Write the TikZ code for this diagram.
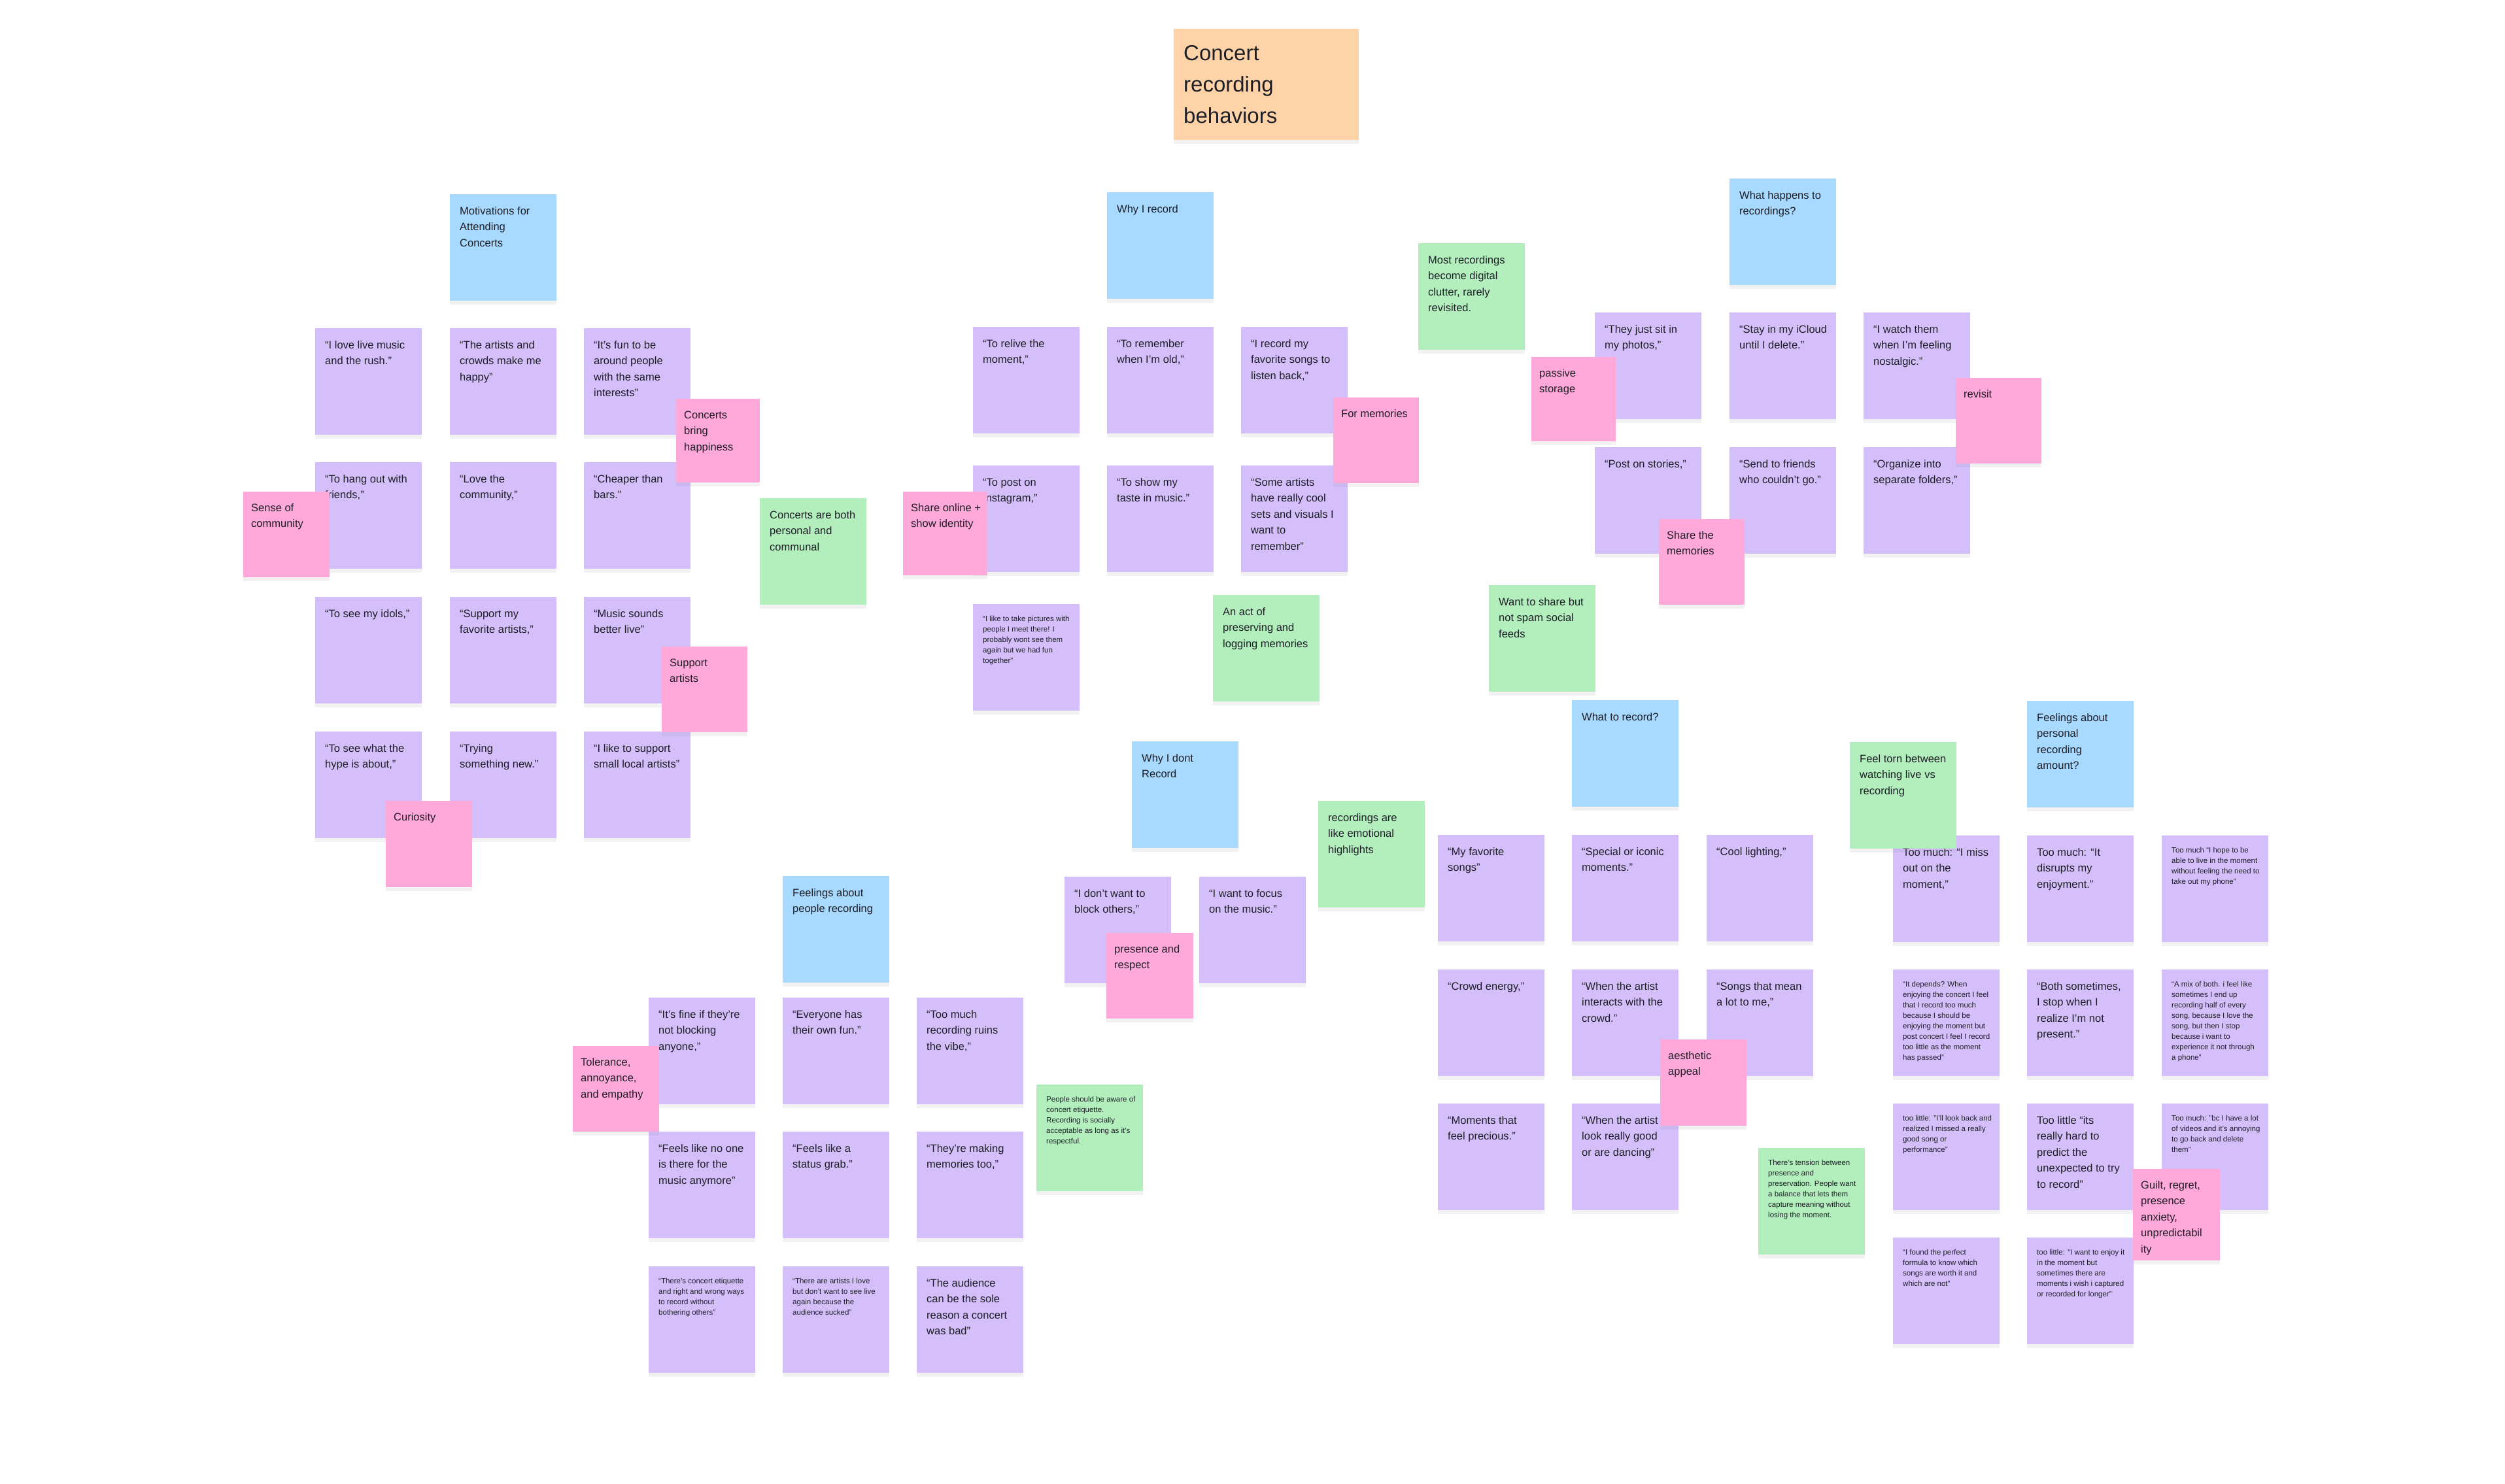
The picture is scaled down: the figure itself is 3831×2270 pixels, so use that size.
\documentclass[tikz,border=0pt]{standalone}
\usepackage{fontspec}
\setmainfont{Liberation Sans}
\usetikzlibrary{shadows}
\definecolor{notepurple}{HTML}{D4BFFB}
\definecolor{notepink}{HTML}{FFA8DA}
\definecolor{notegreen}{HTML}{B2EFBD}
\definecolor{noteblue}{HTML}{A8D9FF}
\definecolor{noteorange}{HTML}{FFD3A8}
\definecolor{inkc}{HTML}{1E1E26}
\newcommand\mknote[6]{%
  \node[#1] (#2) at (#3,#4) {};
  \node[#5] (#2t) at (#2.north west) {\strut #6};}
\begin{document}
\begin{tikzpicture}[x=1pt,y=-1pt,
  note/.style={anchor=north west, inner sep=0pt, outer sep=0pt,
    minimum width=163pt, minimum height=163pt,
    drop shadow={opacity=0.10, shadow xshift=0pt, shadow yshift=-6pt}},
  purp/.style={note, fill=notepurple},
  blu/.style={note, fill=noteblue},
  grn/.style={note, fill=notegreen},
  pnk/.style={note, fill=notepink, minimum width=131pt, minimum height=131pt},
  txt/.style={anchor=north west, inner sep=0pt, align=left, text=inkc,
    xshift=15pt, yshift=-14pt, font=\fontsize{16.5}{24.5}\selectfont},
  sml/.style={txt, yshift=-1pt, font=\fontsize{11.5}{16}\selectfont},
  ptxt/.style={txt, xshift=-3pt, yshift=1pt},
  ttl/.style={txt, yshift=-1pt, font=\fontsize{33}{48}\selectfont}]
\fill[white] (0,0) rectangle (3831,2270);
\useasboundingbox (0,0) rectangle (3831,2270);

% title
\mknote{note, fill=noteorange, minimum width=283pt, minimum height=170pt}{title}{1795}{44}{ttl}{Concert\\recording\\behaviors}

% ---------- Motivations ----------
\mknote{blu}{bmot}{688}{297}{txt}{Motivations for\\Attending\\Concerts}
\mknote{purp}{m11}{482}{502}{txt}{“I love live music\\and the rush.”}
\mknote{purp}{m12}{688}{502}{txt}{“The artists and\\crowds make me\\happy”}
\mknote{purp}{m13}{893}{502}{txt}{“It’s fun to be\\around people\\with the same\\interests”}
\mknote{purp}{m21}{482}{707}{txt}{“To hang out with\\friends,”}
\mknote{purp}{m22}{688}{707}{txt}{“Love the\\community,”}
\mknote{purp}{m23}{893}{707}{txt}{“Cheaper than\\bars.”}
\mknote{purp}{m31}{482}{913}{txt}{“To see my idols,”}
\mknote{purp}{m32}{688}{913}{txt}{“Support my\\favorite artists,”}
\mknote{purp}{m33}{893}{913}{txt}{“Music sounds\\better live”}
\mknote{purp}{m41}{482}{1119}{txt}{“To see what the\\hype is about,”}
\mknote{purp}{m42}{688}{1119}{txt}{“Trying\\something new.”}
\mknote{purp}{m43}{893}{1119}{txt}{“I like to support\\small local artists”}
\mknote{grn}{g1}{1162}{762}{txt}{Concerts are both\\personal and\\communal}

% ---------- Why I record ----------
\mknote{blu}{bwhy}{1693}{294}{txt}{Why I record}
\mknote{purp}{r11}{1488}{500}{txt}{“To relive the\\moment,”}
\mknote{purp}{r12}{1693}{500}{txt}{“To remember\\when I’m old,”}
\mknote{purp}{r13}{1898}{500}{txt}{“I record my\\favorite songs to\\listen back,”}
\mknote{purp}{r21}{1488}{712}{txt}{“To post on\\Instagram,”}
\mknote{purp}{r22}{1693}{712}{txt}{“To show my\\taste in music.”}
\mknote{purp}{r23}{1898}{712}{txt}{“Some artists\\have really cool\\sets and visuals  I\\want to\\remember”}
\mknote{purp}{r31}{1488}{924}{sml}{“I like to take pictures with\\people I meet there! I\\probably wont see them\\again but we had fun\\together”}
\mknote{grn}{g2}{1855}{910}{txt}{An act of\\preserving and\\logging memories}

% ---------- What happens ----------
\mknote{grn}{g3}{2169}{372}{txt}{Most recordings\\become digital\\clutter, rarely\\revisited.}
\mknote{blu}{bhap}{2645}{273}{txt}{What happens to\\recordings?}
\mknote{purp}{h11}{2439}{478}{txt}{“They just sit in\\my photos,”}
\mknote{purp}{h12}{2645}{478}{txt}{“Stay in my iCloud\\until I delete.”}
\mknote{purp}{h13}{2850}{478}{txt}{“I watch them\\when I’m feeling\\nostalgic.”}
\mknote{purp}{h21}{2439}{684}{txt}{“Post on stories,”}
\mknote{purp}{h22}{2645}{684}{txt}{“Send to friends\\who couldn’t go.”}
\mknote{purp}{h23}{2850}{684}{txt}{“Organize into\\separate folders,”}
\mknote{grn}{g4}{2277}{895}{txt}{Want to share but\\not spam social\\feeds}

% ---------- Why I dont record ----------
\mknote{blu}{bdont}{1731}{1134}{txt}{Why I dont\\Record}
\mknote{purp}{d1}{1628}{1341}{txt}{“I don’t want to\\block others,”}
\mknote{purp}{d2}{1834}{1341}{txt}{“I want to focus\\on the music.”}
\mknote{grn}{g5}{2016}{1225}{txt}{recordings are\\like emotional\\highlights}

% ---------- Feelings about people recording ----------
\mknote{blu}{bfeel}{1197}{1340}{txt}{Feelings about\\people recording}
\mknote{purp}{f11}{992}{1526}{txt}{“It’s fine if they’re\\not blocking\\anyone,”}
\mknote{purp}{f12}{1197}{1526}{txt}{“Everyone has\\their own fun.”}
\mknote{purp}{f13}{1402}{1526}{txt}{“Too much\\recording ruins\\the vibe,”}
\mknote{purp}{f21}{992}{1731}{txt}{“Feels like no one\\is there for the\\music anymore”}
\mknote{purp}{f22}{1197}{1731}{txt}{“Feels like a\\status grab.”}
\mknote{purp}{f23}{1402}{1731}{txt}{“They’re making\\memories too,”}
\mknote{purp}{f31}{992}{1937}{sml}{“There’s concert etiquette\\and right and wrong ways\\to record without\\bothering others”}
\mknote{purp}{f32}{1197}{1937}{sml}{“There are artists I love\\but don’t want to see live\\again because the\\audience sucked”}
\mknote{purp}{f33}{1402}{1937}{txt}{“The audience\\can be the sole\\reason a concert\\was bad”}
\mknote{grn}{g6}{1585}{1659}{sml}{People should be aware of\\concert etiquette.\\Recording is socially\\acceptable as long as it’s\\respectful.}

% ---------- What to record ----------
\mknote{blu}{bwhat}{2404}{1071}{txt}{What to record?}
\mknote{purp}{w11}{2199}{1277}{txt}{“My favorite\\songs”}
\mknote{purp}{w12}{2404}{1277}{txt}{“Special or iconic\\moments.”}
\mknote{purp}{w13}{2610}{1277}{txt}{“Cool lighting,”}
\mknote{purp}{w21}{2199}{1483}{txt}{“Crowd energy,”}
\mknote{purp}{w22}{2404}{1483}{txt}{“When the artist\\interacts with the\\crowd.”}
\mknote{purp}{w23}{2610}{1483}{txt}{“Songs that mean\\a lot to me,”}
\mknote{purp}{w31}{2199}{1688}{txt}{“Moments that\\feel precious.”}
\mknote{purp}{w32}{2404}{1688}{txt}{“When the artist\\look really good\\or are dancing”}
\mknote{grn}{g7}{2689}{1756}{sml}{There’s tension between\\presence and\\preservation. People want\\a balance that lets them\\capture meaning without\\losing the moment.}

% ---------- Feelings about personal recording ----------
\mknote{blu}{bpers}{3100}{1072}{txt}{Feelings about\\personal\\recording\\amount?}
\mknote{purp}{p11}{2895}{1278}{txt}{Too much: “I miss\\out on the\\moment,”}
\mknote{purp}{p12}{3100}{1278}{txt}{Too much: “It\\disrupts my\\enjoyment.”}
\mknote{purp}{p13}{3306}{1278}{sml}{Too much “I hope to be\\able to live in the moment\\without feeling the need to\\take out my phone”}
\mknote{purp}{p21}{2895}{1483}{sml}{“It depends? When\\enjoying the concert I feel\\that I record too much\\because I should be\\enjoying the moment but\\post concert I feel I record\\too little as the moment\\has passed”}
\mknote{purp}{p22}{3100}{1483}{txt}{“Both sometimes,\\I stop when I\\realize I’m not\\present.”}
\mknote{purp}{p23}{3306}{1483}{sml}{“A mix of both. i feel like\\sometimes I end up\\recording half of every\\song, because I love the\\song, but then I stop\\because i want to\\experience it not through\\a phone”}
\mknote{purp}{p31}{2895}{1688}{sml}{too little: "I’ll look back and\\realized I missed a really\\good song or\\performance"}
\mknote{purp}{p32}{3100}{1688}{txt}{Too little “its\\really hard to\\predict the\\unexpected to try\\to record”}
\mknote{purp}{p33}{3306}{1688}{sml}{Too much: "bc I have a lot\\of videos and it’s annoying\\to go back and delete\\them"}
\mknote{purp}{p41}{2895}{1893}{sml}{“I found the perfect\\formula to know which\\songs are worth it and\\which are not”}
\mknote{purp}{p42}{3100}{1893}{sml}{too little: “I want to enjoy it\\in the moment but\\sometimes there are\\moments i wish i captured\\or recorded for longer”}
\mknote{grn}{g8}{2829}{1135}{txt}{Feel torn between\\watching live vs\\recording}

% ---------- pink theme notes ----------
\mknote{pnk, minimum width=128pt, minimum height=128pt}{k1}{1034}{610}{ptxt}{Concerts\\bring\\happiness}
\mknote{pnk, minimum width=132pt}{k2}{372}{752}{ptxt}{Sense of\\community}
\mknote{pnk}{k3}{1012}{989}{ptxt}{Support\\artists}
\mknote{pnk, minimum width=132pt, minimum height=132pt}{k4}{590}{1225}{ptxt}{Curiosity}
\mknote{pnk}{k5}{2039}{608}{ptxt}{For memories}
\mknote{pnk, minimum width=129pt, minimum height=128pt}{k6}{1381}{752}{ptxt}{Share online +\\show identity}
\mknote{pnk, minimum width=129pt, minimum height=129pt}{k7}{2342}{546}{ptxt}{passive\\storage}
\mknote{pnk}{k8}{2991}{578}{ptxt}{revisit}
\mknote{pnk}{k9}{2537}{794}{ptxt}{Share the\\memories}
\mknote{pnk, minimum width=133pt}{k10}{1692}{1427}{ptxt}{presence and\\respect}
\mknote{pnk, minimum width=132pt}{k11}{876}{1600}{ptxt}{Tolerance,\\annoyance,\\and empathy}
\mknote{pnk, minimum width=132pt, minimum height=132pt}{k12}{2539}{1590}{ptxt}{aesthetic\\appeal}
\mknote{pnk, minimum width=133pt, minimum height=140pt}{k13}{3262}{1788}{ptxt}{Guilt, regret,\\presence\\anxiety,\\unpredictabil\\ity}
\end{tikzpicture}
\end{document}
